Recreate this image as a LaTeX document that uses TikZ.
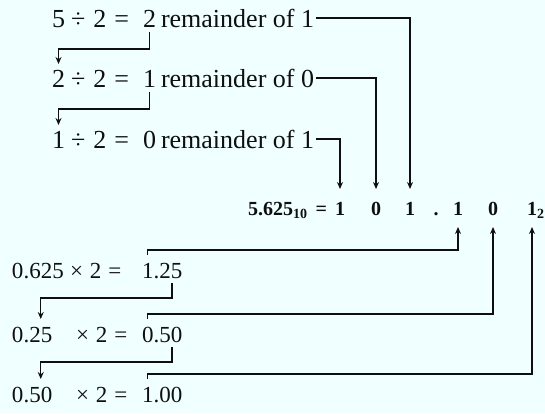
\documentclass[tikz,border=0pt]{standalone}
\usepackage{fontspec}
\setmainfont{Liberation Serif}
\usetikzlibrary{arrows.meta}
\definecolor{ConvPaper}{RGB}{240,255,255}
\definecolor{ConvInk}{gray}{0.06}
\tikzset{
    conv/diagram/.style={
        font=\fontsize{26}{30}\selectfont,
        draw=ConvInk,
        text=ConvInk,
        line width=1.4pt,
        every node/.style={inner sep=0pt, outer sep=0pt}
    },
    conv/term/.style={
        anchor=base west, inner ysep=5pt,
        text height=18pt, text depth=0pt
    },
    conv/small/.style={font=\fontsize{23}{28}\selectfont},
    conv/digit/.style={
        anchor=base, inner ysep=12pt,
        text height=14pt, text depth=0pt,
        font=\fontsize{20}{24}\selectfont\bfseries
    },
    conv/link/.style={
        draw=ConvInk, line width=1.4pt,
        -{Stealth[length=7pt, width=6pt]}
    }
}
\begin{document}
\begin{tikzpicture}[conv/diagram, x=1pt, y=-1pt]
    \fill[ConvPaper] (0,0) rectangle (545,413);
    \useasboundingbox (0,0) rectangle (545,413);
    \foreach \k/\y/\n/\q/\r in {1/27/5/2/1, 2/87/2/1/0, 3/148/1/0/1} {
        \node[conv/term] (a\k) at (52,\y) {\n};
        \node[conv/term] (o\k) at (71,\y) {÷\hspace{8pt}2\hspace{8pt}=};
        \node[conv/term] (q\k) at (143,\y) {\q};
        \node[conv/term] (t\k) at (161,\y) {remainder of};
        \node[conv/term, anchor=base east, inner xsep=2pt] (r\k) at (316,\y) {\r};
    }
    \node[conv/digit, anchor=base west] (val) at (248,215)
        {5.625\textsubscript{10}\hspace{8pt}=};
    \foreach \k/\x/\d in {1/340/1, 2/376/0, 3/410/1, 4/436/., 5/458/1, 6/493/0, 7/532/1} {
        \node[conv/digit] (b\k) at (\x,215) {\d};
    }
    \node[conv/digit, anchor=base west] (radix) at (b7.base east) {\textsubscript{2}};
    \foreach \k/\y/\h/\t/\s/\p/\f in {1/278/0./625/70/1/.25, 2/342/0./25/76/0/.50, 3/402/0./50/76/1/.00} {
        \node[conv/term, conv/small] (h\k) at (12,\y) {\h};
        \node[conv/term, conv/small] (m\k) at (h\k.base east) {\t};
        \node[conv/term, conv/small] (x\k) at (\s,\y) {×\hspace{7pt}2\hspace{7pt}=};
        \node[conv/term, conv/small] (p\k) at (142,\y) {\p};
        \node[conv/term, conv/small] (f\k) at (p\k.base east) {\f};
    }
    \draw[conv/link] (q1.south) -- ++(0,17) -| (a2.north);
    \draw[conv/link] (q2.south) -- ++(0,17) -| (a3.north);
    \draw[conv/link] (r1.east) -| (b3.north);
    \draw[conv/link] (r2.east) -| (b2.north);
    \draw[conv/link] (r3.east) -| (b1.north);
    \draw[conv/link] (p1.north) -- ++(0,-5) -| (b5.south);
    \draw[conv/link] (p2.north) -- ++(0,-5) -| (b6.south);
    \draw[conv/link] (p3.north) -- ++(0,-5) -| (b7.south);
    \draw[conv/link] ([xshift=4pt]f1.south) -- ++(0,15) -| (m2.north);
    \draw[conv/link] ([xshift=4pt]f2.south) -- ++(0,15) -| (m3.north);
\end{tikzpicture}
\end{document}
